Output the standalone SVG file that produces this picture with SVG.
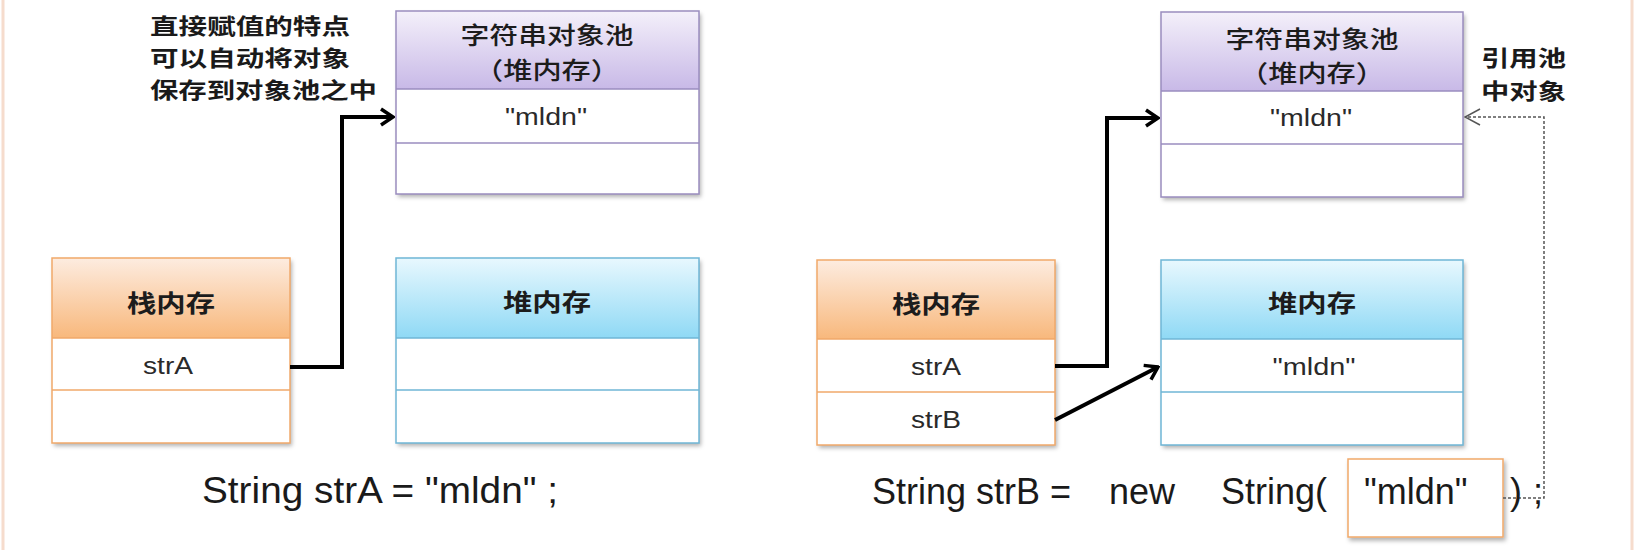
<svg xmlns="http://www.w3.org/2000/svg" width="1634" height="550" viewBox="0 0 1634 550">
<style>
.lbl{font-family:"Noto Sans CJK SC","Noto Sans",sans-serif;fill:#1c1c1c;dominant-baseline:central;text-anchor:middle}
.hdr{font-size:24px;font-weight:700}
.pool{font-size:24px;font-weight:500}
.note{font-family:"Noto Sans CJK SC","Noto Sans",sans-serif;font-size:22px;font-weight:700;fill:#1a1a1a;dominant-baseline:central}
.val{font-family:"Liberation Sans",Arial,sans-serif;font-size:23px;fill:#2a2a2a;dominant-baseline:central;text-anchor:middle}
.code{font-family:"Liberation Sans",Arial,sans-serif;font-size:36px;fill:#1a1a1a}
.stk{stroke:#f1a96a;stroke-width:1.5}
.hp{stroke:#6fb6d6;stroke-width:1.5}
.pl{stroke:#9a8dbf;stroke-width:1.5}
.row{fill:#ffffff}
.conn{fill:none;stroke:#000;stroke-width:4;stroke-linejoin:miter}
.dash{fill:none;stroke:#555;stroke-width:1.5;stroke-dasharray:3 2}
</style>
<defs>
<linearGradient id="gOrange" x1="0" y1="0" x2="0" y2="1">
<stop offset="0" stop-color="#fdece0"/><stop offset="1" stop-color="#f8b87c"/>
</linearGradient>
<linearGradient id="gBlue" x1="0" y1="0" x2="0" y2="1">
<stop offset="0" stop-color="#e8f8fe"/><stop offset="1" stop-color="#8fd9f5"/>
</linearGradient>
<linearGradient id="gPurple" x1="0" y1="0" x2="0" y2="1">
<stop offset="0" stop-color="#f4f0fa"/><stop offset="1" stop-color="#c8b9e7"/>
</linearGradient>
<filter id="sh" x="-5%" y="-5%" width="115%" height="120%">
<feDropShadow dx="2" dy="3" stdDeviation="2" flood-color="#000" flood-opacity="0.3"/>
</filter>
<marker id="arr" viewBox="0 0 16 20" refX="14" refY="10" markerWidth="16" markerHeight="20" markerUnits="userSpaceOnUse" orient="auto">
<path d="M2,2 L14,10 L2,18" fill="none" stroke="#000" stroke-width="3.5"/>
</marker>
<marker id="arrThin" viewBox="0 0 18 20" refX="17" refY="10" markerWidth="18" markerHeight="20" markerUnits="userSpaceOnUse" orient="auto">
<path d="M2,2 L17,10 L2,18" fill="none" stroke="#555" stroke-width="1.5"/>
</marker>
</defs>
<rect width="1634" height="550" fill="#ffffff"/>
<line x1="3" y1="0" x2="3" y2="550" stroke="#f6dccd" stroke-width="3"/>
<line x1="1632" y1="0" x2="1632" y2="550" stroke="#f6dccd" stroke-width="3"/>

<g id="pool-left">
<rect x="396" y="11" width="303" height="183" class="row" filter="url(#sh)"/>
<rect x="396" y="11" width="303" height="78" fill="url(#gPurple)"/>
<rect x="396" y="11" width="303" height="183" fill="none" class="pl"/>
<line x1="396" y1="89" x2="699" y2="89" class="pl"/>
<line x1="396" y1="143" x2="699" y2="143" class="pl"/>
<text x="547" y="33" class="lbl pool" textLength="173" lengthAdjust="spacingAndGlyphs">字符串对象池</text>
<text x="547" y="68" class="lbl pool" textLength="146" lengthAdjust="spacingAndGlyphs">（堆内存）</text>
<text x="546" y="117" class="val" textLength="82" lengthAdjust="spacingAndGlyphs">"mldn"</text>
</g>

<g id="stack-left">
<rect x="52" y="258" width="238" height="185" class="row" filter="url(#sh)"/>
<rect x="52" y="258" width="238" height="80" fill="url(#gOrange)"/>
<rect x="52" y="258" width="238" height="185" fill="none" class="stk"/>
<line x1="52" y1="338" x2="290" y2="338" class="stk"/>
<line x1="52" y1="390" x2="290" y2="390" class="stk"/>
<text x="171" y="301" class="lbl hdr" textLength="88" lengthAdjust="spacingAndGlyphs">栈内存</text>
<text x="168" y="366" class="val" textLength="50" lengthAdjust="spacingAndGlyphs">strA</text>
</g>

<g id="heap-left">
<rect x="396" y="258" width="303" height="185" class="row" filter="url(#sh)"/>
<rect x="396" y="258" width="303" height="80" fill="url(#gBlue)"/>
<rect x="396" y="258" width="303" height="185" fill="none" class="hp"/>
<line x1="396" y1="338" x2="699" y2="338" class="hp"/>
<line x1="396" y1="390" x2="699" y2="390" class="hp"/>
<text x="547" y="300" class="lbl hdr" textLength="88" lengthAdjust="spacingAndGlyphs">堆内存</text>
</g>

<g id="pool-right">
<rect x="1161" y="12" width="302" height="185" class="row" filter="url(#sh)"/>
<rect x="1161" y="12" width="302" height="79" fill="url(#gPurple)"/>
<rect x="1161" y="12" width="302" height="185" fill="none" class="pl"/>
<line x1="1161" y1="91" x2="1463" y2="91" class="pl"/>
<line x1="1161" y1="144" x2="1463" y2="144" class="pl"/>
<text x="1312" y="37" class="lbl pool" textLength="173" lengthAdjust="spacingAndGlyphs">字符串对象池</text>
<text x="1312" y="71" class="lbl pool" textLength="146" lengthAdjust="spacingAndGlyphs">（堆内存）</text>
<text x="1311" y="118" class="val" textLength="82" lengthAdjust="spacingAndGlyphs">"mldn"</text>
</g>

<g id="stack-right">
<rect x="817" y="260" width="238" height="185" class="row" filter="url(#sh)"/>
<rect x="817" y="260" width="238" height="79" fill="url(#gOrange)"/>
<rect x="817" y="260" width="238" height="185" fill="none" class="stk"/>
<line x1="817" y1="339" x2="1055" y2="339" class="stk"/>
<line x1="817" y1="392" x2="1055" y2="392" class="stk"/>
<text x="936" y="302" class="lbl hdr" textLength="88" lengthAdjust="spacingAndGlyphs">栈内存</text>
<text x="936" y="367" class="val" textLength="50" lengthAdjust="spacingAndGlyphs">strA</text>
<text x="936" y="420" class="val" textLength="50" lengthAdjust="spacingAndGlyphs">strB</text>
</g>

<g id="heap-right">
<rect x="1161" y="260" width="302" height="185" class="row" filter="url(#sh)"/>
<rect x="1161" y="260" width="302" height="79" fill="url(#gBlue)"/>
<rect x="1161" y="260" width="302" height="185" fill="none" class="hp"/>
<line x1="1161" y1="339" x2="1463" y2="339" class="hp"/>
<line x1="1161" y1="392" x2="1463" y2="392" class="hp"/>
<text x="1312" y="301" class="lbl hdr" textLength="88" lengthAdjust="spacingAndGlyphs">堆内存</text>
<text x="1314" y="367" class="val" textLength="83" lengthAdjust="spacingAndGlyphs">"mldn"</text>
</g>

<g id="literal-box">
<rect x="1348" y="459" width="155" height="78" fill="#ffffff" stroke="#f1a96a" stroke-width="1.5" filter="url(#sh)"/>
</g>

<g id="connectors">
<path class="conn" d="M290,367 H342 V117 H393" marker-end="url(#arr)"/>
<path class="conn" d="M1055,366 H1107 V118 H1158" marker-end="url(#arr)"/>
<path class="conn" d="M1055,420 L1158,367" marker-end="url(#arr)"/>
<path class="dash" d="M1503,498 H1544 V117 H1465" marker-end="url(#arrThin)"/>
</g>

<g id="notes">
<text x="150" y="24" class="note" textLength="200" lengthAdjust="spacingAndGlyphs">直接赋值的特点</text>
<text x="150" y="56" class="note" textLength="200" lengthAdjust="spacingAndGlyphs">可以自动将对象</text>
<text x="150" y="88" class="note" textLength="227" lengthAdjust="spacingAndGlyphs">保存到对象池之中</text>
<text x="1481" y="56" class="note" textLength="85" lengthAdjust="spacingAndGlyphs">引用池</text>
<text x="1481" y="89" class="note" textLength="85" lengthAdjust="spacingAndGlyphs">中对象</text>
</g>

<g id="code">
<text x="202" y="503" class="code" textLength="356" lengthAdjust="spacingAndGlyphs">String strA = "mldn" ;</text>
<text y="504" class="code"><tspan x="872">String strB =</tspan><tspan x="1109">new</tspan><tspan x="1221">String(</tspan><tspan x="1364">"mldn"</tspan><tspan x="1510">)</tspan><tspan x="1533">;</tspan></text>
</g>
</svg>
